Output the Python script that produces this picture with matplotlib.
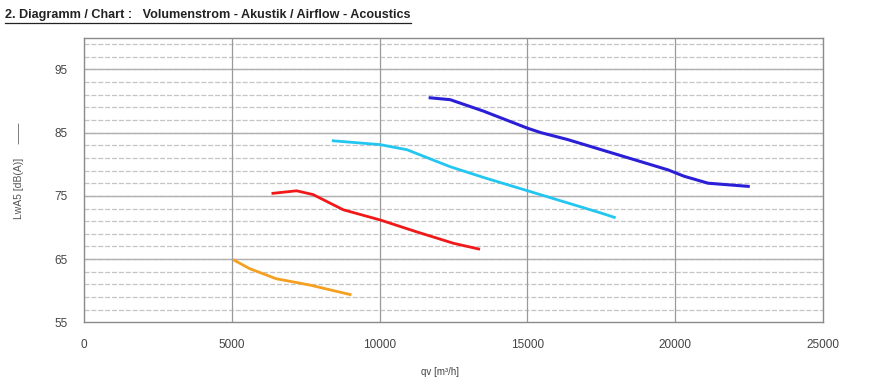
import matplotlib.pyplot as plt
from matplotlib.lines import Line2D

# airflow qv [m3/h] vs sound power LwA5 [dB(A)]
orange_qv = [5090, 5600, 6500, 7640, 9000]
orange_lw = [64.8, 63.5, 61.9, 60.9, 59.4]

red_qv = [6390, 7190, 7750, 8770, 10010, 11260, 12500, 13350]
red_lw = [75.4, 75.8, 75.2, 72.8, 71.2, 69.3, 67.5, 66.6]

cyan_qv = [8430, 10010, 10920, 12390, 13520, 15220, 17480, 17940]
cyan_lw = [83.7, 83.1, 82.3, 79.6, 77.9, 75.5, 72.3, 71.6]

blue_qv = [11710, 12390, 13510, 15000, 15450, 16360, 18060, 19760, 20300, 21110, 22470]
blue_lw = [90.5, 90.2, 88.4, 85.7, 85.0, 83.9, 81.5, 79.1, 78.1, 77.0, 76.5]

x_ticks = [0, 5000, 10000, 15000, 20000, 25000]
y_ticks = [55, 65, 75, 85, 95]

plt.rcParams['font.family'] = ['Liberation Sans', 'DejaVu Sans']

fig = plt.figure(figsize=(8.89, 3.84), dpi=100)
ax = fig.add_axes([0.0945, 0.1605, 0.8313, 0.7413])

# horizontal grid every 2 dB, vertical every 5000
for v in range(57, 100, 2):
    ax.axhline(v, color='#c4c4c4', lw=0.9, ls=(0, (4, 1.5)), zorder=1)
for v in y_ticks[1:]:
    ax.axhline(v, color='#b0b0b0', lw=1.0, zorder=1)
for v in x_ticks[1:-1]:
    ax.axvline(v, color='#9a9a9a', lw=0.9, zorder=1)

ax.plot(orange_qv, orange_lw, color='#f5a020', lw=2.0, zorder=3)
ax.plot(red_qv, red_lw, color='#f01818', lw=2.0, zorder=3)
ax.plot(cyan_qv, cyan_lw, color='#22c6f0', lw=2.0, zorder=3)
ax.plot(blue_qv, blue_lw, color='#2a1fd6', lw=2.2, zorder=3)

ax.set_xlim(0, 25000)
ax.set_ylim(55, 100)
ax.set_xticks(x_ticks)
ax.set_yticks(y_ticks)
ax.tick_params(length=0, labelsize=8.5, labelcolor='#444444')
ax.tick_params(axis='x', pad=12)
ax.tick_params(axis='y', pad=12)
for s in ax.spines.values():
    s.set_color('#8a8a8a')
    s.set_linewidth(1.0)

fig.text(0.021, 0.555, 'LwA5 [dB(A)]     \u2014\u2014', rotation=90,
         ha='center', va='center', fontsize=7.5, color='#555555')
fig.text(0.495, 0.03, 'qv [m\u00b3/h]', ha='center', va='center',
         fontsize=7, color='#444444')

title = fig.text(0.006, 0.96, '2. Diagramm / Chart :   Volumenstrom - Akustik / Airflow - Acoustics',
                 ha='left', va='center', fontsize=9.1, fontweight='bold', color='#222222')
fig.canvas.draw()
bb = title.get_window_extent().transformed(fig.transFigure.inverted())
fig.add_artist(Line2D([bb.x0, bb.x1], [bb.y0 - 0.004, bb.y0 - 0.004],
                      transform=fig.transFigure, color='#222222', lw=0.9))

fig.savefig('out.png', dpi=100)
